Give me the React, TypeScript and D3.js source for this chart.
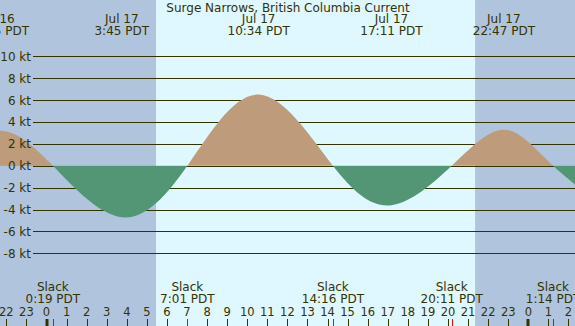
import React from "react";
import * as d3 from "d3";

// hours relative to Jul 17 00:00 PDT, speed in knots (+ flood, - ebb)
const eventHours = [-5.3, -2.42, 0.317, 3.75, 7.017, 10.567, 14.267, 17.183, 20.183, 22.783, 25.233, 28.6];
const eventSpeeds = [0, 3.2, 0, -4.7, 0, 6.5, 0, -3.6, 0, 3.3, 0, -4.8];

const peakHours = [-2.42, 3.75, 10.567, 17.183, 22.783];
const peakDays = ["Jul 16", "Jul 17", "Jul 17", "Jul 17", "Jul 17"];
const peakTimes = ["21:35 PDT", "3:45 PDT", "10:34 PDT", "17:11 PDT", "22:47 PDT"];

const slackHours = [0.317, 7.017, 14.267, 20.183, 25.233];
const slackTimes = ["0:19 PDT", "7:01 PDT", "14:16 PDT", "20:11 PDT", "1:14 PDT"];

const sunrise = 5.456;
const sunset = 21.35;

const yTicks = [10, 8, 6, 4, 2, 0, -2, -4, -6, -8];
const hourTicks = d3.range(-2, 27);

const title = "Surge Narrows, British Columbia Current";

const W = 575;
const H = 326;
const ink = "#333300";
const font = "DejaVu Sans, sans-serif";

export default function App() {
  const x = d3.scaleLinear().domain([0, 24]).range([46.5, 528.3]);
  const y = d3.scaleLinear().domain([-8, 10]).range([253.3, 56.3]);

  const pts = eventHours.map((h, i) => [h, eventSpeeds[i]] as [number, number]);
  const area = d3
    .area<[number, number]>()
    .x((d) => x(d[0]))
    .y0(y(0))
    .y1((d) => y(d[1]))
    .curve(d3.curveNatural);
  const path = area(pts) || "";
  const y0 = y(0);

  return (
    <svg
      width={W}
      height={H}
      style={{ position: "absolute", left: 0, top: 0, fontFamily: font }}
    >
      <defs>
        <clipPath id="above">
          <rect x={0} y={0} width={W} height={y0} />
        </clipPath>
        <clipPath id="below">
          <rect x={0} y={y0} width={W} height={H - y0} />
        </clipPath>
      </defs>
      <rect x={0} y={0} width={W} height={H} fill="#b0c4de" />
      <rect x={x(sunrise)} y={0} width={x(sunset) - x(sunrise)} height={H} fill="#dff7ff" />

      {yTicks.map((t) => (
        <line
          key={"g" + t}
          x1={33}
          x2={W}
          y1={Math.round(y(t)) + 0.5}
          y2={Math.round(y(t)) + 0.5}
          stroke={ink}
          strokeWidth={1}
        />
      ))}

      <path d={path} fill="#bd9b7b" clipPath="url(#above)" />
      <path d={path} fill="#529675" clipPath="url(#below)" />

      {yTicks.map((t) => (
        <text key={"l" + t} x={31} y={y(t) + 4.5} textAnchor="end" fontSize={12} fill={ink}>
          {t} kt
        </text>
      ))}

      <text x={288} y={12} textAnchor="middle" fontSize={12} fill={ink}>
        {title}
      </text>
      {peakHours.map((h, i) => (
        <g key={h}>
          <text x={x(h)} y={23} textAnchor="middle" fontSize={12} fill={ink}>
            {peakDays[i]}
          </text>
          <text x={x(h)} y={35} textAnchor="middle" fontSize={12} fill={ink}>
            {peakTimes[i]}
          </text>
        </g>
      ))}

      {slackHours.map((h, i) => (
        <g key={h}>
          <text x={x(h)} y={290.5} textAnchor="middle" fontSize={12} fill={ink}>
            Slack
          </text>
          <text x={x(h)} y={303} textAnchor="middle" fontSize={12} fill={ink}>
            {slackTimes[i]}
          </text>
        </g>
      ))}

      {hourTicks.map((h) => {
        const hr = ((h % 24) + 24) % 24;
        const xx = Math.round(x(h));
        return (
          <g key={h}>
            <text x={x(h)} y={315.5} textAnchor="middle" fontSize={11.5} fill={ink}>
              {hr}
            </text>
            {hr === 0 ? (
              <rect x={xx - 1.5} y={319} width={3} height={7} fill={ink} />
            ) : (
              <line x1={xx + 0.5} x2={xx + 0.5} y1={319} y2={326} stroke={ink} />
            )}
          </g>
        );
      })}
      {slackHours.map((h) => (
        <line
          key={"r" + h}
          x1={Math.round(x(h)) + 0.5}
          x2={Math.round(x(h)) + 0.5}
          y1={319}
          y2={326}
          stroke="#ff0000"
        />
      ))}
    </svg>
  );
}
